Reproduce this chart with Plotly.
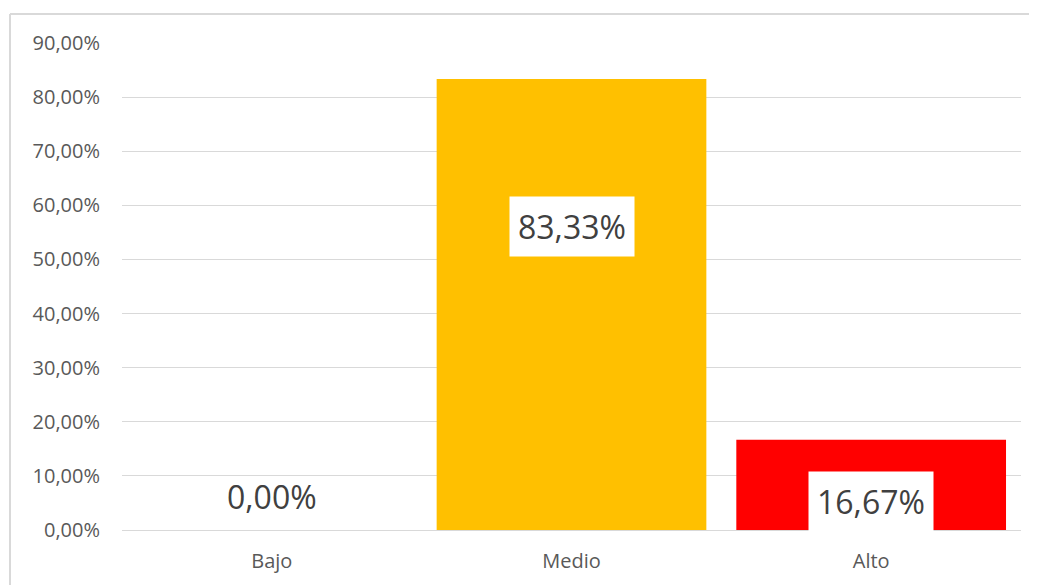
import plotly.graph_objects as go

categories = ["Bajo", "Medio", "Alto"]
values = [0.0, 0.8333, 0.1667]
bar_colors = ["#FFC000", "#FFC000", "#FF0000"]
label_texts = ["0,00%", "83,33%", "16,67%"]
label_y = [0.061, 0.56, 0.052]
label_bg = ["rgba(0,0,0,0)", "white", "white"]

fig = go.Figure()
fig.add_trace(go.Bar(
    x=categories, y=values,
    marker=dict(color=bar_colors, line=dict(width=0)),
    hoverinfo="skip",
))

for c, t, ly, bg in zip(categories, label_texts, label_y, label_bg):
    fig.add_annotation(
        x=c, y=ly, xref="x", yref="y", text=t, showarrow=False,
        font=dict(family="Open Sans", size=32, color="#404040"),
        bgcolor=bg, borderpad=8,
    )

# chart-area border (top and left)
fig.add_shape(type="line", xref="paper", yref="paper",
              x0=-0.1246, x1=1.05, y0=1.0595, y1=1.0595,
              line=dict(color="#d9d9d9", width=2))
fig.add_shape(type="line", xref="paper", yref="paper",
              x0=-0.1246, x1=-0.1246, y0=-0.2, y1=1.0595,
              line=dict(color="#d9d9d9", width=2))

fig.update_layout(
    width=1037, height=585,
    margin=dict(l=114, r=24, t=35, b=63),
    paper_bgcolor="white", plot_bgcolor="white",
    separators=",.",
    bargap=0.1,
    showlegend=False,
    font=dict(family="Open Sans", color="#595959"),
    xaxis=dict(showgrid=False, showline=False, ticks="",
               tickfont=dict(size=20, color="#595959"),
               ticklabelstandoff=17),
    yaxis=dict(range=[0, 0.9], dtick=0.1, tickformat=".2%",
               showgrid=True, gridcolor="#d9d9d9", gridwidth=1,
               zeroline=True, zerolinecolor="#d9d9d9", zerolinewidth=1,
               showline=False, ticks="",
               tickfont=dict(size=20, color="#595959"),
               ticklabelstandoff=21),
)

fig.write_html("out.html")
